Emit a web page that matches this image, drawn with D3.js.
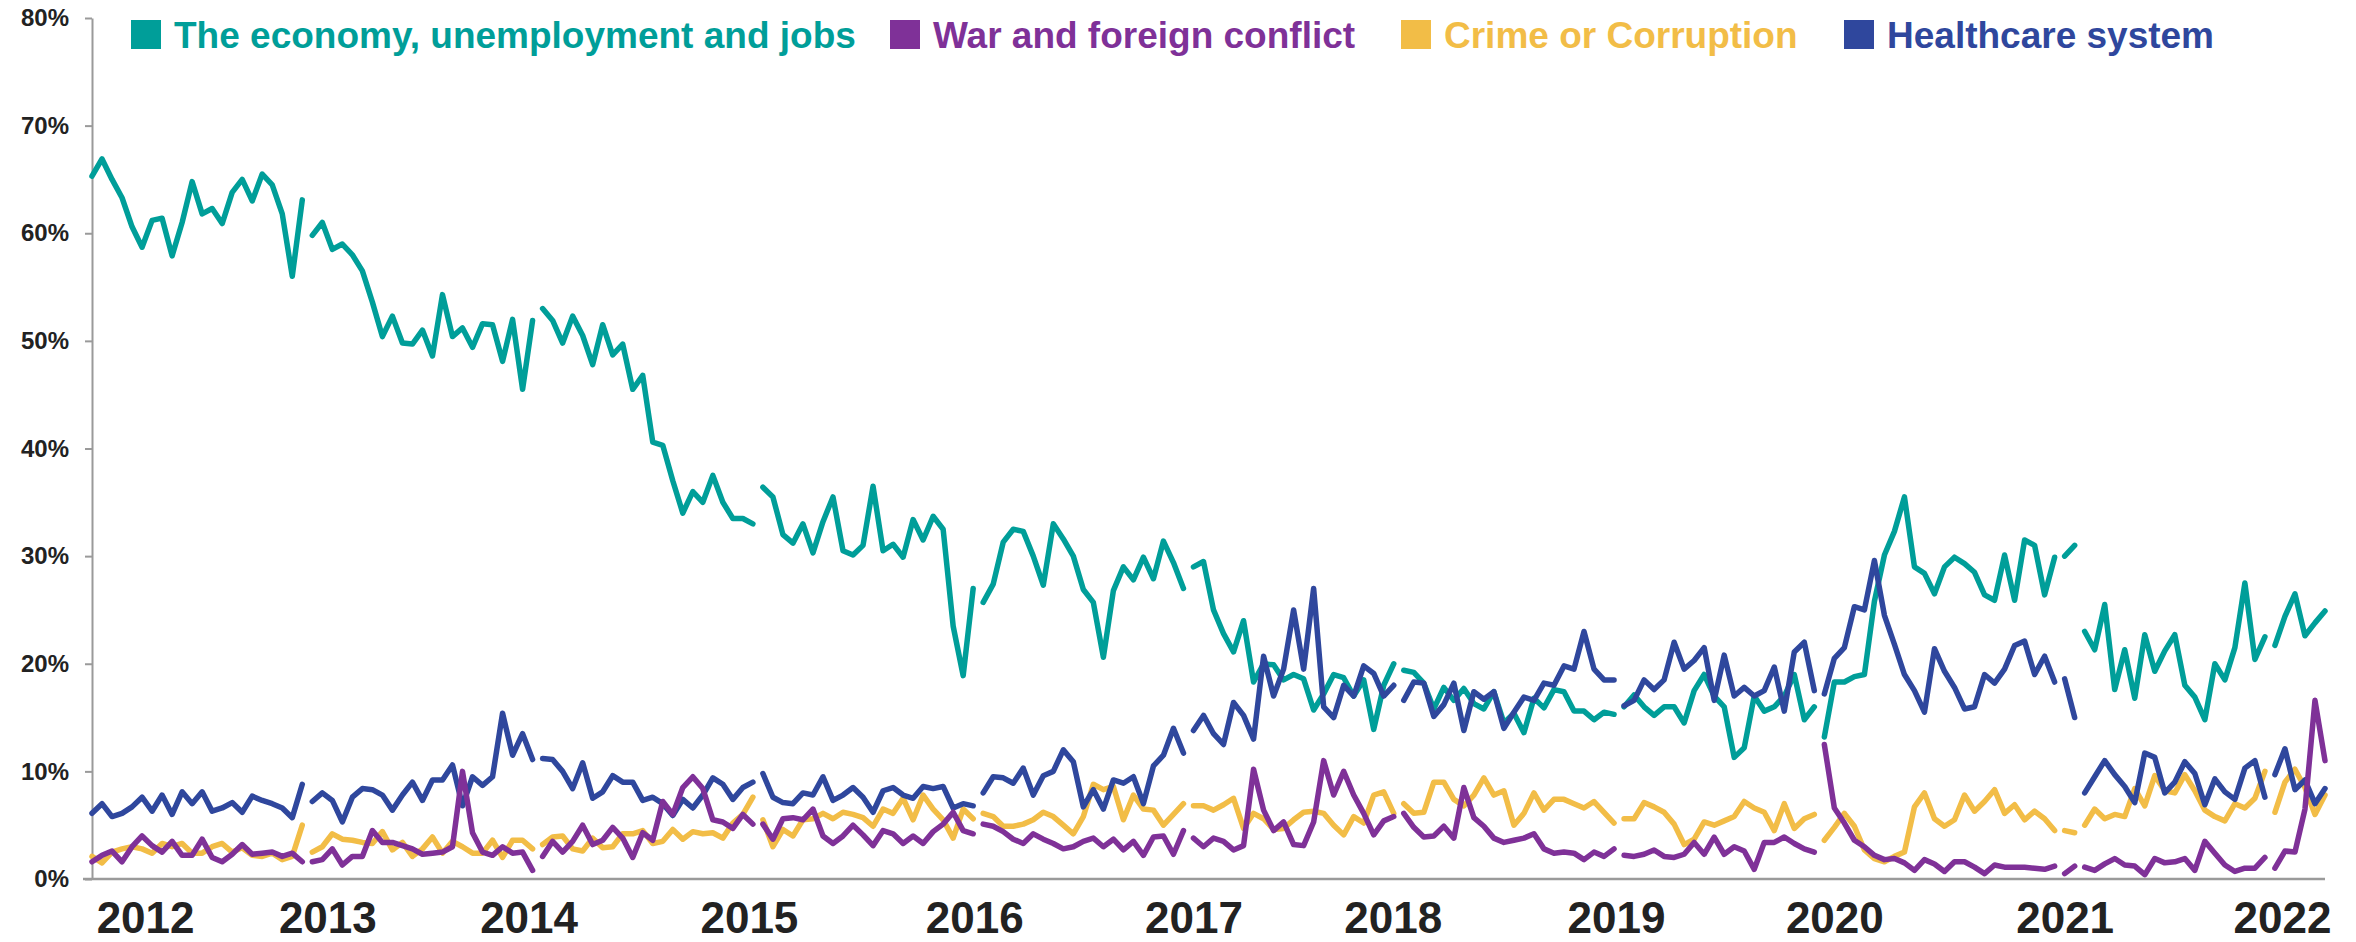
<!DOCTYPE html>
<html lang="en">
<head>
<meta charset="UTF-8">
<title>Most important issues</title>
<script src="https://d3js.org/d3.v7.min.js"></script>
<style>
  body { margin: 0; background: #ffffff; }
  svg { display: block; font-family: "Liberation Sans", Arial, sans-serif; }
  .axis-label { font-weight: bold; fill: #222222; }
</style>
</head>
<body>
<svg id="chart" width="2356" height="942"></svg>
<script>
// ---- data (weekly readings, % of respondents) ----
var years = ["2012", "2013", "2014", "2015", "2016", "2017", "2018", "2019", "2020", "2021", "2022"];
// where each year label sits, in week-index units
var yearPos = [5.3, 23.5, 43.6, 65.6, 88.1, 110.0, 129.9, 152.2, 174.0, 197.0, 218.7];
var yTicks = [0, 10, 20, 30, 40, 50, 60, 70, 80];
// missing weeks: the line is broken after these indices
var breaks = [21, 44, 66, 88, 109, 130, 152, 172, 196, 198, 217];

var economy = [
  65.3, 66.9, 65.0, 63.3, 60.6, 58.7, 61.2, 61.4, 57.9, 61.0, 64.8, 61.8,
  62.3, 60.9, 63.8, 65.0, 63.0, 65.5, 64.5, 61.8, 56.0, 63.1, 59.8, 61.0,
  58.5, 59.0, 58.0, 56.5, 53.6, 50.4, 52.3, 49.8, 49.7, 51.0, 48.6, 54.3,
  50.4, 51.2, 49.4, 51.6, 51.5, 48.1, 52.0, 45.5, 51.9, 53.0, 51.9, 49.8,
  52.3, 50.5, 47.8, 51.5, 48.7, 49.7, 45.5, 46.8, 40.6, 40.3, 37.0, 34.0,
  36.0, 35.0, 37.5, 35.0, 33.5, 33.5, 33.0, 36.4, 35.5, 32.0, 31.2, 33.0,
  30.3, 33.2, 35.5, 30.5, 30.1, 31.0, 36.5, 30.5, 31.1, 29.9, 33.4, 31.5,
  33.7, 32.5, 23.5, 18.9, 27.0, 25.7, 27.4, 31.3, 32.5, 32.3, 30.0, 27.3,
  33.0, 31.6, 30.0, 26.9, 25.7, 20.6, 26.8, 29.0, 27.8, 29.9, 27.9, 31.4,
  29.4, 27.0, 29.0, 29.5, 25.0, 22.8, 21.1, 24.0, 18.3, 20.0, 19.9, 18.5,
  19.0, 18.6, 15.7, 17.2, 19.0, 18.7, 17.0, 18.5, 13.9, 18.0, 20.0, 19.4,
  19.2, 18.2, 15.8, 17.8, 16.6, 17.7, 16.3, 15.8, 17.4, 14.5, 15.4, 13.6,
  16.8, 15.9, 17.6, 17.4, 15.6, 15.6, 14.8, 15.5, 15.3, 16.0, 17.1, 16.0,
  15.2, 16.0, 16.0, 14.5, 17.5, 19.0, 17.0, 16.0, 11.3, 12.2, 17.0, 15.6,
  16.0, 17.0, 19.0, 14.8, 16.0, 13.2, 18.3, 18.3, 18.8, 19.0, 25.8, 30.1,
  32.3, 35.5, 29.0, 28.4, 26.5, 29.0, 29.9, 29.3, 28.5, 26.4, 25.9, 30.1,
  25.9, 31.5, 31.0, 26.4, 29.9, 30.0, 31.0, 23.0, 21.3, 25.5, 17.6, 21.3,
  16.8, 22.7, 19.3, 21.2, 22.7, 18.0, 16.9, 14.8, 20.0, 18.5, 21.5, 27.5,
  20.4, 22.5, 21.7, 24.4, 26.5, 22.6, 23.8, 24.9
];

var war = [
  1.6, 2.2, 2.6, 1.6, 3.0, 4.0, 3.1, 2.5, 3.5, 2.2, 2.2, 3.7,
  2.0, 1.6, 2.3, 3.2, 2.3, 2.4, 2.5, 2.1, 2.4, 1.6, 1.6, 1.8,
  2.8, 1.3, 2.1, 2.1, 4.5, 3.4, 3.4, 3.1, 2.8, 2.3, 2.4, 2.5,
  3.0, 10.0, 4.3, 2.5, 2.2, 3.0, 2.4, 2.5, 0.8, 2.1, 3.5, 2.5,
  3.5, 5.0, 3.2, 3.6, 4.8, 3.8, 2.0, 4.3, 3.6, 7.2, 6.0, 8.5,
  9.5, 8.4, 5.5, 5.3, 4.7, 6.0, 5.1, 5.1, 3.7, 5.6, 5.7, 5.5,
  6.5, 4.0, 3.3, 4.0, 5.0, 4.1, 3.1, 4.5, 4.2, 3.3, 4.0, 3.3,
  4.4, 5.1, 6.2, 4.5, 4.2, 5.1, 4.9, 4.4, 3.7, 3.3, 4.2, 3.7,
  3.3, 2.8, 3.0, 3.5, 3.8, 3.0, 3.7, 2.7, 3.5, 2.2, 3.9, 4.0,
  2.3, 4.5, 3.8, 3.0, 3.8, 3.5, 2.7, 3.1, 10.2, 6.4, 4.5, 5.3,
  3.2, 3.1, 5.3, 11.0, 7.8, 10.0, 7.8, 6.1, 4.1, 5.4, 5.8, 6.1,
  4.8, 3.9, 4.0, 4.9, 3.8, 8.5, 5.7, 4.9, 3.8, 3.4, 3.6, 3.8,
  4.2, 2.8, 2.4, 2.5, 2.4, 1.8, 2.5, 2.1, 2.8, 2.2, 2.1, 2.3,
  2.7, 2.1, 2.0, 2.3, 3.4, 2.3, 3.9, 2.3, 3.0, 2.6, 0.9, 3.4,
  3.4, 3.9, 3.3, 2.8, 2.5, 12.5, 6.6, 5.2, 3.6, 3.0, 2.2, 1.8,
  1.9, 1.5, 0.8, 1.8, 1.4, 0.7, 1.6, 1.6, 1.1, 0.5, 1.3, 1.1,
  1.1, 1.1, 1.0, 0.9, 1.2, 0.5, 1.2, 1.1, 0.8, 1.4, 1.9, 1.3,
  1.2, 0.4, 1.9, 1.5, 1.6, 1.9, 0.8, 3.5, 2.4, 1.3, 0.7, 1.0,
  1.0, 2.0, 1.0, 2.6, 2.5, 6.5, 16.6, 11.0
];

var crime = [
  2.1, 1.5, 2.5, 2.8, 3.0, 2.8, 2.4, 3.3, 3.0, 3.3, 2.4, 2.4,
  3.0, 3.3, 2.5, 2.9, 2.2, 2.1, 2.4, 1.8, 2.1, 5.0, 2.5, 3.0,
  4.2, 3.7, 3.6, 3.4, 3.3, 4.4, 2.7, 3.4, 2.1, 2.8, 3.9, 2.4,
  3.5, 3.0, 2.4, 2.4, 3.6, 2.0, 3.6, 3.6, 2.8, 3.2, 3.9, 4.0,
  2.8, 2.6, 3.8, 2.9, 3.0, 4.2, 4.2, 4.5, 3.3, 3.5, 4.6, 3.7,
  4.4, 4.2, 4.3, 3.8, 5.2, 6.0, 7.6, 5.5, 3.0, 4.6, 4.0, 5.5,
  5.6, 6.1, 5.6, 6.2, 6.0, 5.7, 4.9, 6.5, 6.1, 7.5, 5.5, 7.8,
  6.5, 5.5, 3.8, 6.5, 5.6, 6.1, 5.8, 4.9, 4.9, 5.1, 5.5, 6.2,
  5.8, 5.0, 4.2, 5.8, 8.8, 8.3, 8.6, 5.5, 7.8, 6.5, 6.4, 5.0,
  6.0, 7.0, 6.8, 6.8, 6.4, 6.9, 7.5, 4.7, 6.1, 5.6, 4.6, 4.7,
  5.5, 6.2, 6.3, 6.1, 5.0, 4.1, 5.8, 5.2, 7.8, 8.1, 6.1, 7.0,
  6.1, 6.2, 9.0, 9.0, 7.4, 6.8, 7.8, 9.4, 7.8, 8.2, 5.0, 6.1,
  8.0, 6.4, 7.4, 7.4, 7.0, 6.6, 7.2, 6.2, 5.2, 5.6, 5.6, 7.1,
  6.7, 6.2, 5.1, 3.2, 3.7, 5.3, 5.0, 5.4, 5.8, 7.2, 6.6, 6.2,
  4.5, 7.0, 4.7, 5.6, 6.0, 3.6, 4.8, 6.1, 4.9, 2.7, 1.9, 1.6,
  2.1, 2.5, 6.7, 8.0, 5.6, 4.9, 5.5, 7.8, 6.3, 7.2, 8.3, 6.1,
  6.9, 5.5, 6.3, 5.6, 4.5, 4.5, 4.3, 5.0, 6.5, 5.6, 6.0, 5.8,
  8.4, 6.8, 9.6, 8.2, 8.0, 9.7, 8.2, 6.4, 5.8, 5.4, 7.0, 6.6,
  7.5, 10.0, 6.2, 9.0, 10.2, 8.5, 6.0, 7.8
];

var health = [
  6.1, 7.0, 5.8, 6.1, 6.7, 7.6, 6.3, 7.8, 6.0, 8.1, 7.0, 8.1,
  6.3, 6.6, 7.1, 6.2, 7.7, 7.3, 7.0, 6.6, 5.7, 8.8, 7.2, 8.0,
  7.3, 5.3, 7.6, 8.4, 8.3, 7.8, 6.4, 7.8, 9.0, 7.3, 9.2, 9.2,
  10.6, 6.8, 9.5, 8.7, 9.5, 15.4, 11.5, 13.5, 11.1, 11.2, 11.1, 10.0,
  8.4, 10.8, 7.5, 8.1, 9.6, 9.0, 9.0, 7.3, 7.6, 7.0, 5.9, 7.4,
  6.6, 7.8, 9.4, 8.8, 7.4, 8.5, 9.0, 9.8, 7.6, 7.1, 7.0, 8.0,
  7.8, 9.5, 7.3, 7.8, 8.5, 7.6, 6.2, 8.2, 8.5, 7.8, 7.5, 8.6,
  8.4, 8.6, 6.6, 7.0, 6.8, 8.0, 9.5, 9.4, 8.9, 10.3, 7.8, 9.6,
  10.0, 12.0, 10.9, 6.7, 8.3, 6.5, 9.2, 8.9, 9.5, 7.0, 10.5, 11.5,
  14.0, 11.7, 13.8, 15.2, 13.5, 12.5, 16.4, 15.2, 13.0, 20.7, 17.0, 19.5,
  25.0, 19.5, 27.0, 16.0, 15.0, 18.0, 17.0, 19.8, 19.1, 17.0, 18.0, 16.6,
  18.3, 18.2, 15.1, 16.2, 18.2, 13.8, 17.4, 16.7, 17.4, 14.0, 15.5, 16.9,
  16.6, 18.2, 18.0, 19.8, 19.5, 23.0, 19.5, 18.5, 18.5, 16.1, 16.6, 18.5,
  17.6, 18.5, 22.0, 19.5, 20.3, 21.5, 16.6, 20.8, 17.0, 17.8, 17.0, 17.5,
  19.7, 15.6, 21.1, 22.0, 17.5, 17.2, 20.5, 21.5, 25.3, 25.0, 29.6, 24.5,
  21.8, 19.0, 17.5, 15.5, 21.4, 19.3, 17.8, 15.8, 16.0, 19.0, 18.2, 19.5,
  21.7, 22.1, 19.0, 20.7, 18.3, 18.6, 15.0, 8.0, 9.5, 11.0, 9.7, 8.6,
  7.1, 11.7, 11.3, 8.0, 9.0, 10.9, 9.8, 6.9, 9.3, 8.1, 7.4, 10.3,
  11.0, 7.6, 9.7, 12.1, 8.3, 9.2, 7.0, 8.4
];

var seriesNames = ["The economy, unemployment and jobs", "War and foreign conflict", "Crime or Corruption", "Healthcare system"];
var seriesColors = ["#009e99", "#7f3198", "#f2bd47", "#2f479d"];
var seriesValues = [economy, war, crime, health];

// ---- layout ----
var svg = d3.select("#chart");
var plotLeft = 92, plotRight = 2325, plotTop = 18, plotBottom = 879;

var x = d3.scaleLinear().domain([0, economy.length - 1]).range([plotLeft, plotRight]);
var y = d3.scaleLinear().domain([0, 80]).range([plotBottom, plotTop]);

// y axis
var yAxis = svg.append("g")
  .attr("transform", "translate(" + plotLeft + ",0)")
  .call(d3.axisLeft(y).tickValues(yTicks).tickFormat(function(d) { return d + "%"; })
    .tickSize(7).tickSizeOuter(0).tickPadding(16));
yAxis.select(".domain").attr("stroke", "#9a9a9a").attr("stroke-width", 2);
yAxis.selectAll(".tick line").attr("stroke", "#9a9a9a").attr("stroke-width", 2);
yAxis.selectAll(".tick text").attr("class", "axis-label").style("font-size", "24px")
  .style("font-family", "'Liberation Sans', Arial, sans-serif");

// x axis
var xAxis = svg.append("g")
  .attr("transform", "translate(0," + plotBottom + ")")
  .call(d3.axisBottom(x).tickValues(yearPos).tickFormat(function(d, i) { return years[i]; })
    .tickSize(0).tickSizeOuter(0).tickPadding(23));
xAxis.select(".domain").remove();
xAxis.selectAll(".tick text").attr("class", "axis-label").style("font-size", "44px")
  .style("font-family", "'Liberation Sans', Arial, sans-serif");
svg.append("line")
  .attr("x1", plotLeft - 9).attr("x2", plotRight)
  .attr("y1", plotBottom).attr("y2", plotBottom)
  .attr("stroke", "#9a9a9a").attr("stroke-width", 2.5);

// split a series into runs at the missing weeks
function segments(values) {
  var out = [], cur = [];
  values.forEach(function(v, i) {
    cur.push([i, v]);
    if (breaks.indexOf(i) >= 0) { out.push(cur); cur = []; }
  });
  if (cur.length) out.push(cur);
  return out;
}

var line = d3.line()
  .x(function(d) { return x(d[0]); })
  .y(function(d) { return y(d[1]); });

// drawing order: economy, crime, healthcare, war on top
[0, 2, 3, 1].forEach(function(k) {
  svg.append("g")
    .selectAll("path")
    .data(segments(seriesValues[k]))
    .enter().append("path")
    .attr("d", line)
    .attr("fill", "none")
    .attr("stroke", seriesColors[k])
    .attr("stroke-width", 5.5)
    .attr("stroke-linejoin", "round")
    .attr("stroke-linecap", "round");
});

// legend
var legendX = [131, 890, 1401, 1844];
var legend = svg.append("g").selectAll("g")
  .data(seriesNames)
  .enter().append("g")
  .attr("transform", function(d, i) { return "translate(" + legendX[i] + ",0)"; });

legend.append("rect")
  .attr("x", 0).attr("y", 20)
  .attr("width", 30).attr("height", 29)
  .attr("fill", function(d, i) { return seriesColors[i]; });

legend.append("text")
  .attr("x", 43).attr("y", 48)
  .style("font-size", "37px")
  .style("font-weight", "bold")
  .attr("fill", function(d, i) { return seriesColors[i]; })
  .text(function(d) { return d; });
</script>
</body>
</html>
